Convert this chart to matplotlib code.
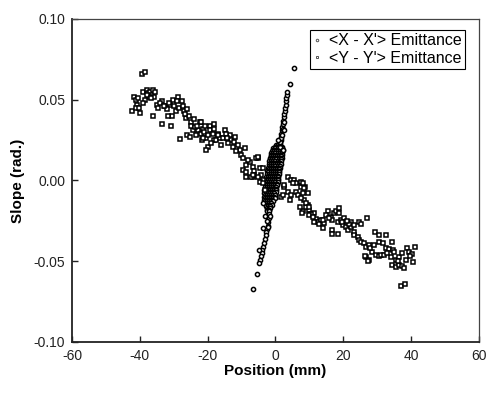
import matplotlib
matplotlib.use("Agg")
import matplotlib.pyplot as plt

plt.rcParams['font.family'] = ['Liberation Sans', 'DejaVu Sans']
plt.rcParams['axes.unicode_minus'] = False

# <Y - Y'> emittance points (position mm, slope rad)
yy_points = [
    (-42.4, 0.043), (-41.7, 0.052), (-41.2, 0.050), (-40.8, 0.047), (-41.0, 0.045),
    (-40.2, 0.045), (-39.8, 0.042), (-40.5, 0.051), (-39.5, 0.066), (-38.6, 0.067),
    (-39.0, 0.055), (-38.0, 0.056), (-37.5, 0.054), (-37.0, 0.055), (-36.5, 0.053),
    (-36.0, 0.056), (-35.6, 0.055), (-35.8, 0.052), (-37.2, 0.052), (-38.5, 0.050),
    (-39.2, 0.048), (-36.1, 0.040), (-35.0, 0.047), (-34.5, 0.045), (-33.4, 0.049),
    (-30.2, 0.050), (-28.7, 0.052), (-27.7, 0.049), (-29.2, 0.043), (-30.5, 0.040),
    (-31.6, 0.040), (-33.6, 0.035), (-30.7, 0.034), (-32.5, 0.046), (-31.0, 0.047),
    (-29.8, 0.046), (-28.5, 0.045), (-27.0, 0.043), (-34.0, 0.048), (-32.0, 0.044),
    (-26.3, 0.0385), (-24.8, 0.036), (-24.3, 0.031), (-22.8, 0.031), (-21.4, 0.032),
    (-19.4, 0.034), (-19.4, 0.031), (-18.4, 0.029), (-20.4, 0.026), (-19.9, 0.021),
    (-28.2, 0.0255), (-26.2, 0.028), (-23.3, 0.028), (-21.8, 0.025), (-18.0, 0.025),
    (-25.5, 0.040), (-26.8, 0.041), (-25.0, 0.034), (-23.8, 0.033), (-22.4, 0.036),
    (-18.0, 0.035), (-25.3, 0.027), (-21.9, 0.029), (-21.4, 0.026), (-18.9, 0.023),
    (-20.4, 0.019), (-17.5, 0.025), (-16.5, 0.026), (-21.9, 0.036), (-18.0, 0.032),
    (-21.0, 0.030), (-20.0, 0.028), (-16.0, 0.022), (-15.0, 0.031), (-15.5, 0.026),
    (-13.5, 0.028), (-13.0, 0.025), (-12.1, 0.024), (-12.6, 0.021), (-11.1, 0.022),
    (-10.6, 0.019), (-10.1, 0.016), (-9.1, 0.020), (-9.6, 0.014), (-8.6, 0.0096),
    (-7.6, 0.0116), (-6.7, 0.0085), (-6.2, 0.006), (-5.2, 0.0138), (-9.6, 0.0065),
    (-8.6, 0.0024), (-6.7, 0.0024), (-6.2, 0.0035), (-8.1, 0.0127), (-5.7, 0.0138),
    (-8.6, 0.0055), (-7.1, 0.0024), (-4.7, 0.0075), (-4.2, 0.0034), (-3.7, 0.0003),
    (-5.2, 0.0147), (-3.7, 0.0075), (-6.7, 0.0034), (-5.2, 0.0024), (-4.7, -0.0007),
    (-3.7, -0.0017), (-3.2, -0.006), (-11.5, 0.018), (-14.0, 0.023), (-12.0, 0.027),
    (-16.8, 0.029), (-14.5, 0.029), (-37.8, 0.053), (-36.8, 0.051), (-33.0, 0.046),
    (-31.4, 0.048), (-29.0, 0.049), (-27.4, 0.046), (-26.0, 0.044), (-24.0, 0.038),
    (-23.0, 0.034), (-20.8, 0.034), (-17.0, 0.028), (-14.2, 0.026),
    (3.6, 0.0024), (4.6, 0.0003), (5.4, 0.0), (2.6, -0.0038), (3.6, -0.007),
    (4.6, -0.009), (6.1, -0.0017), (7.5, -0.0007), (7.5, -0.004), (8.8, -0.0038),
    (6.1, -0.007), (6.6, -0.009), (8.2, -0.0076), (4.3, -0.012), (1.7, -0.010),
    (8.5, -0.012), (9.5, -0.015), (8.0, -0.019), (10.0, -0.018), (11.5, -0.020),
    (12.0, -0.024), (10.5, -0.021), (2.6, -0.0028), (5.1, -0.0017), (2.1, -0.009),
    (8.0, -0.0017), (8.5, -0.0048), (9.5, -0.008), (7.5, -0.011), (7.1, -0.0162),
    (9.0, -0.0162), (10.0, -0.0214), (11.0, -0.0224), (12.4, -0.0255), (13.4, -0.0245),
    (12.9, -0.027), (14.4, -0.0265), (15.4, -0.019), (13.9, -0.0296), (9.0, -0.014),
    (10.0, -0.0166), (7.7, -0.020), (11.5, -0.0255), (13.9, -0.0245), (14.9, -0.0214),
    (16.4, -0.0224), (17.4, -0.020), (17.8, -0.019), (18.8, -0.0172), (18.8, -0.020),
    (16.8, -0.0245), (18.3, -0.0255), (19.3, -0.0245), (20.3, -0.0234), (16.8, -0.0306),
    (18.3, -0.033), (16.8, -0.033), (19.8, -0.0276), (20.8, -0.0286), (21.3, -0.0306),
    (22.3, -0.0255), (22.3, -0.0286), (23.2, -0.0276), (23.2, -0.0317), (24.7, -0.0255),
    (25.2, -0.027), (27.1, -0.0234), (23.2, -0.0338), (24.2, -0.0348), (24.7, -0.0368),
    (25.2, -0.0379), (26.2, -0.0389), (26.7, -0.041), (27.6, -0.040), (26.7, -0.0472),
    (27.6, -0.0492), (28.6, -0.044), (29.6, -0.046), (30.6, -0.047), (29.4, -0.032),
    (30.6, -0.0379), (31.6, -0.0389), (31.1, -0.046), (32.1, -0.046), (32.6, -0.0337),
    (32.7, -0.042), (33.5, -0.0427), (34.5, -0.0379), (34.7, -0.043), (34.0, -0.0472),
    (35.0, -0.0445), (35.5, -0.0492), (34.5, -0.0523), (35.5, -0.0533), (36.5, -0.0523),
    (37.4, -0.053), (37.9, -0.0544), (36.5, -0.0476), (37.4, -0.0447), (38.9, -0.042),
    (39.4, -0.044), (40.4, -0.0455), (40.6, -0.0503), (41.2, -0.0414), (37.0, -0.0653),
    (38.2, -0.064), (26.5, -0.047), (27.4, -0.0497), (30.6, -0.0337), (21.8, -0.027),
    (28.0, -0.042), (29.0, -0.040), (33.0, -0.045), (36.0, -0.050), (38.5, -0.049),
    (39.8, -0.047), (15.8, -0.023), (19.5, -0.026), (21.0, -0.025),
]

# <X - X'> core: slope level -> positions along that row
xx_core = {
    0.022: [0.2, 0.8, 1.4],
    0.021: [-0.2, 0.3, 0.8, 1.3, 1.8],
    0.020: [-0.6, 0.0, 0.6, 1.2, 1.9],
    0.019: [-0.8, -0.2, 0.4, 1.0, 1.6, 2.1],
    0.018: [-1.1, -0.5, 0.1, 0.7, 1.3, 1.9],
    0.017: [-1.2, -0.6, 0.0, 0.6, 1.2, 1.8],
    0.016: [-1.4, -0.9, -0.3, 0.3, 0.9, 1.5, 2.0],
    0.015: [-1.4, -0.7, -0.1, 0.4, 1.0, 1.7],
    0.014: [-1.6, -1.0, -0.4, 0.2, 0.8, 1.4, 1.9],
    0.013: [-1.5, -0.9, -0.3, 0.3, 0.9, 1.5],
    0.012: [-1.8, -1.2, -0.6, 0.0, 0.6, 1.2, 1.7],
    0.011: [-1.7, -1.0, -0.4, 0.2, 0.8, 1.4],
    0.010: [-2.0, -1.4, -0.8, -0.2, 0.4, 1.0, 1.5],
    0.009: [-1.8, -1.2, -0.6, 0.0, 0.6, 1.2],
    0.008: [-2.2, -1.6, -1.0, -0.4, 0.2, 0.8, 1.3],
    0.007: [-2.0, -1.3, -0.7, -0.1, 0.5, 1.1],
    0.006: [-2.4, -1.8, -1.2, -0.6, 0.0, 0.6, 1.1],
    0.005: [-2.1, -1.4, -0.8, -0.2, 0.4, 1.0],
    0.004: [-2.5, -1.9, -1.3, -0.7, -0.1, 0.5, 0.9],
    0.003: [-2.2, -1.6, -1.0, -0.4, 0.2, 0.8],
    0.002: [-2.7, -2.1, -1.5, -0.9, -0.3, 0.3, 0.7],
    0.001: [-2.4, -1.7, -1.1, -0.5, 0.1, 0.7],
    0.000: [-2.8, -2.2, -1.6, -1.0, -0.4, 0.2, 0.6],
    -0.001: [-2.5, -1.8, -1.2, -0.6, 0.0, 0.6],
    -0.002: [-3.0, -2.4, -1.8, -1.2, -0.6, 0.0, 0.4],
    -0.003: [-2.6, -2.0, -1.4, -0.8, -0.2, 0.4],
    -0.004: [-3.1, -2.5, -1.9, -1.3, -0.7, -0.1, 0.3],
    -0.005: [-2.8, -2.1, -1.5, -0.9, -0.3, 0.3],
    -0.006: [-3.3, -2.7, -2.1, -1.5, -0.9, -0.3, 0.1],
    -0.007: [-2.9, -2.2, -1.6, -1.0, -0.4, 0.2],
    -0.008: [-3.4, -2.8, -2.2, -1.6, -1.0, -0.4],
    -0.009: [-3.0, -2.4, -1.8, -1.2, -0.6, 0.0],
    -0.010: [-3.4, -2.8, -2.2, -1.6, -1.0, -0.4],
    -0.011: [-3.1, -2.5, -1.9, -1.3, -0.7, -0.1],
    -0.012: [-3.3, -2.7, -2.1, -1.5, -0.9],
    -0.013: [-3.0, -2.4, -1.8, -1.2, -0.6],
    -0.014: [-3.1, -2.5, -1.9, -1.3],
    -0.015: [-2.9, -2.3, -1.7, -1.1],
    -0.016: [-2.8, -2.2, -1.6],
    -0.017: [-2.6, -2.0, -1.5],
    -0.018: [-2.5, -1.9],
    -0.019: [-2.4, -1.9],
}

# <X - X'> tails and loose points
xx_points = [
    (1.2, 0.021), (1.35, 0.023), (1.5, 0.025), (1.6, 0.027), (1.75, 0.029),
    (1.9, 0.031), (2.0, 0.033), (2.15, 0.035), (2.3, 0.037), (2.45, 0.039),
    (2.6, 0.041), (2.7, 0.043), (2.85, 0.045), (3.0, 0.047), (3.1, 0.049),
    (3.25, 0.051), (3.4, 0.053), (3.5, 0.055), (4.4, 0.060), (5.6, 0.0695),
    (1.4, 0.024), (1.7, 0.026), (1.9, 0.028), (2.1, 0.032), (2.4, 0.036),
    (2.1, 0.019), (2.4, 0.031), (0.7, 0.025),
    (-1.9, -0.021), (-2.0, -0.023), (-2.2, -0.026), (-2.3, -0.028), (-2.5, -0.030),
    (-2.7, -0.032), (-2.9, -0.034), (-3.1, -0.036), (-3.4, -0.039), (-3.6, -0.041),
    (-3.9, -0.043), (-4.1, -0.045), (-4.4, -0.047), (-4.7, -0.049), (-4.8, -0.051),
    (-5.5, -0.058), (-6.7, -0.067), (-3.7, -0.0296), (-2.2, -0.0286), (-4.9, -0.043),
    (-3.2, -0.022), (-3.7, -0.014), (-1.6, -0.022), (-2.6, -0.025),
]

xx_pos = [x for y, xs in xx_core.items() for x in xs] + [p[0] for p in xx_points]
xx_slope = [y for y, xs in xx_core.items() for x in xs] + [p[1] for p in xx_points]
yy_pos = [p[0] for p in yy_points]
yy_slope = [p[1] for p in yy_points]

fig = plt.figure(figsize=(4.88, 3.93), dpi=100)
ax = fig.add_axes([0.1475, 0.1298, 0.834, 0.8219])

ax.plot(xx_pos, xx_slope, 'o', ms=3.0, mfc='white', mec='black', mew=1.1,
        label="<X - X'> Emittance")
ax.plot(yy_pos, yy_slope, 's', ms=3.0, mfc='white', mec='black', mew=1.1,
        label="<Y - Y'> Emittance")

ax.set_xlim(-60, 60)
ax.set_ylim(-0.10, 0.10)
ax.set_xticks(range(-60, 61, 20))
ax.set_yticks([-0.10, -0.05, 0.0, 0.05, 0.10])
ax.set_yticklabels(['-0.10', '-0.05', '0.00', '0.05', '0.10'])
ax.tick_params(direction='in', length=4, width=1, labelsize=10, colors='#222222',
               top=False, right=False, pad=5)
for s in ['left', 'bottom']:
    ax.spines[s].set_linewidth(1.3)
    ax.spines[s].set_color('#222222')
for s in ['top', 'right']:
    ax.spines[s].set_linewidth(0.9)
    ax.spines[s].set_color('#444444')

ax.set_xlabel('Position (mm)', fontsize=11, fontweight='bold', labelpad=1)
ax.set_ylabel('Slope (rad.)', fontsize=11, fontweight='bold', labelpad=6)

leg = ax.legend(loc='upper right', bbox_to_anchor=(0.966, 0.966), borderaxespad=0,
                fancybox=False, framealpha=1, edgecolor='black', fontsize=11.5,
                handlelength=0.5, handletextpad=0.5, borderpad=0.2, labelspacing=0.15,
                markerscale=0.6)
leg.get_frame().set_linewidth(0.8)
for h in leg.legend_handles:
    h.set_markeredgewidth(0.7)
    h.set_markeredgecolor('#555555')

fig.savefig('out.png', dpi=100)
